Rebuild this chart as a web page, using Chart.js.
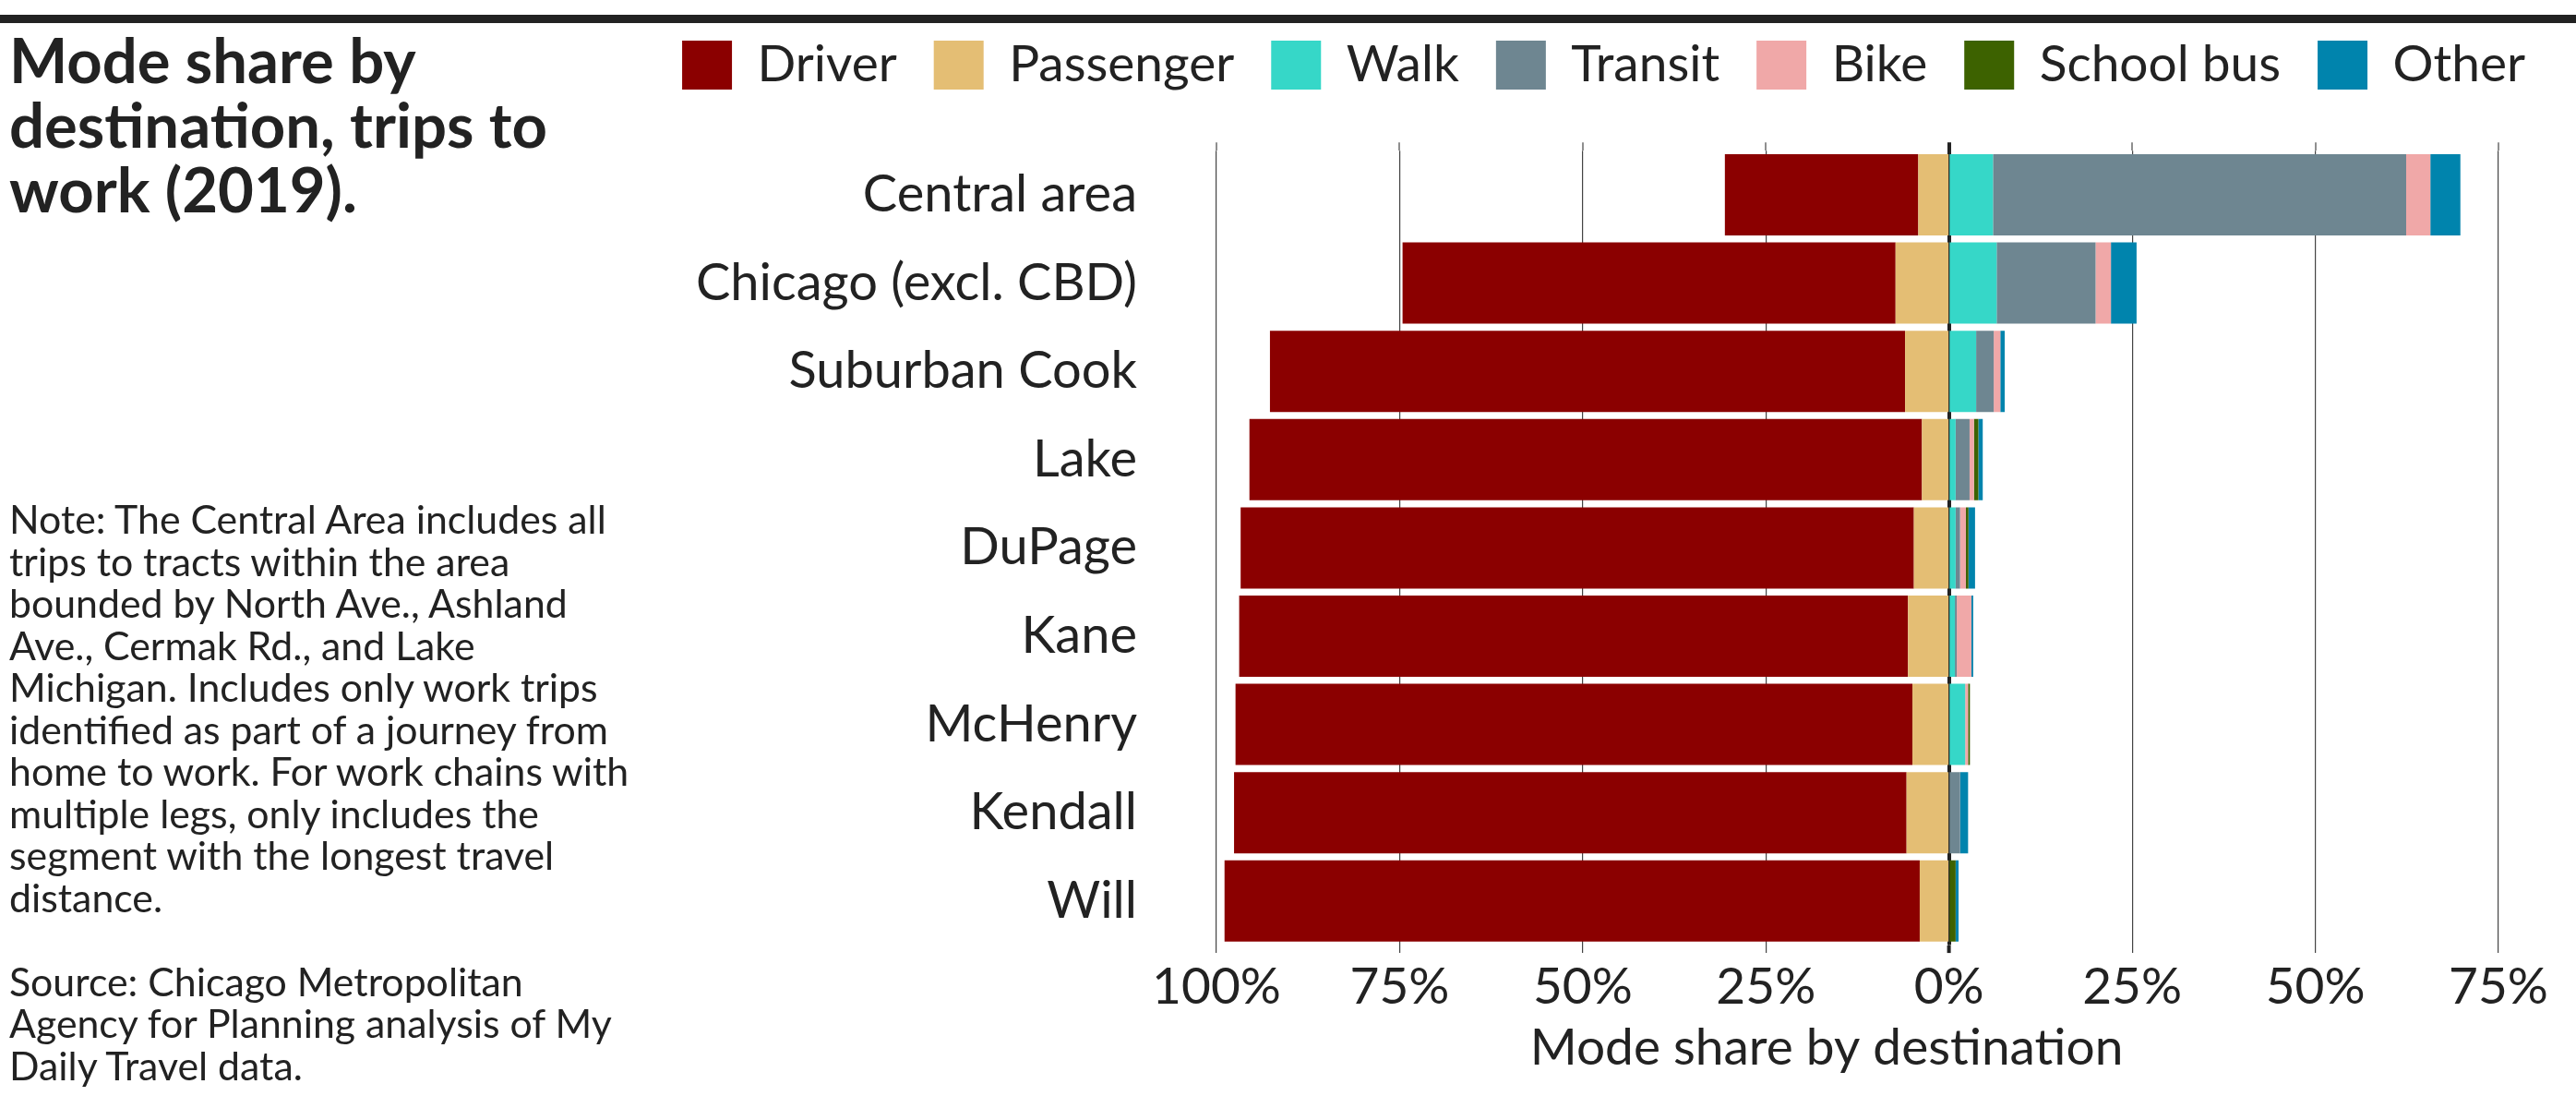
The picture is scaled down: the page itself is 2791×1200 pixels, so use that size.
<!DOCTYPE html>
<html><head><meta charset="utf-8">
<script src="https://cdn.jsdelivr.net/npm/chart.js@4"></script>
<style>
html,body{margin:0;padding:0;background:#fff;width:2791px;height:1200px;overflow:hidden;}
#wrap{position:absolute;left:0;top:0;width:2791px;height:1200px;}
#topbar{position:absolute;left:0;top:16px;width:2791px;height:9px;background:#222;}
#title{position:absolute;left:10px;top:29px;font-family:Lato;font-weight:700;font-size:67px;line-height:70px;color:#222;white-space:nowrap;}
#note{position:absolute;left:10px;top:539px;font-family:Lato;font-size:42.8px;line-height:45.5px;color:#222;white-space:nowrap;}
</style></head>
<body>
<div id="wrap"><canvas id="c"></canvas></div>
<div id="topbar"></div>
<div id="title">Mode share by<br>destination, trips to<br>work (2019).</div>
<div id="note">Note: The Central Area includes all<br>trips to tracts within the area<br>bounded by North Ave., Ashland<br>Ave., Cermak Rd., and Lake<br>Michigan. Includes only work trips<br>identified as part of a journey from<br>home to work. For work chains with<br>multiple legs, only includes the<br>segment with the longest travel<br>distance.<br><br>Source: Chicago Metropolitan<br>Agency for Planning analysis of My<br>Daily Travel data.</div>
<script>
const categories = ['Central area','Chicago (excl. CBD)','Suburban Cook','Lake','DuPage','Kane','McHenry','Kendall','Will'];
const seriesNames = ['Driver','Passenger','Walk','Transit','Bike','School bus','Other'];
const driver    = [26.4, 67.3, 86.7, 91.8, 91.9, 91.3, 92.4, 91.8, 94.9];
const passenger = [4.2, 7.3, 6.0, 3.7, 4.8, 5.6, 5.0, 5.8, 4.0];
const walk      = [6.0, 6.5, 3.7, 0.9, 0.9, 0.8, 2.2, 0.0, 0.0];
const transit   = [56.4, 13.5, 2.4, 1.9, 0.6, 0.25, 0.0, 1.5, 0.0];
const bike      = [3.3, 2.1, 0.9, 0.6, 0.8, 2.0, 0.4, 0.0, 0.0];
const schoolBus = [0, 0, 0, 0.6, 0.35, 0, 0.25, 0, 0.9];
const other     = [4.1, 3.5, 0.6, 0.6, 0.9, 0.25, 0, 1.1, 0.4];
const xTickValues = [-100, -75, -50, -25, 0, 25, 50, 75];
const xAxisTitle = 'Mode share by destination';

const seriesColors = ['#8B0000','#E4BE74','#36D7C8','#6E8691','#F0A8A8','#3D6200','#0084AD'];
const INK = '#222222';
const GRID = '#444444';

Chart.defaults.font.family = 'Lato';
Chart.defaults.color = INK;

const seriesData = [driver.map(v => -v), passenger.map(v => -v), walk, transit, bike, schoolBus, other];
const datasets = seriesNames.map((name, i) => ({
  label: name,
  data: seriesData[i],
  backgroundColor: seriesColors[i],
  borderWidth: 0,
  order: i === 0 ? 1 : 0,
  barPercentage: 0.92,
  categoryPercentage: 1.0
}));

const tickFmt = v => Math.abs(v) + '%';
const isZero = ctx => ctx.tick && ctx.tick.value === 0;

// place the legend and the axis title block horizontally like the original
const blockShift = {
  id: 'blockShift',
  afterLayout(chart) {
    const l = chart.legend;
    if (l) { l.left = 690; l.right = 2785; l.width = 2095; }
    const t = chart.titleBlock;
    if (t) { t.left = 1379; t.right = 2579; t.width = 1200; }
  }
};

new Chart(document.getElementById('c'), {
  type: 'bar',
  data: { labels: categories, datasets },
  plugins: [blockShift],
  options: {
    indexAxis: 'y',
    responsive: true,
    maintainAspectRatio: false,
    animation: false,
    layout: { padding: { top: 3, right: 84, bottom: 0, left: 0 } },
    plugins: {
      tooltip: { enabled: false },
      legend: {
        display: true,
        position: 'top',
        align: 'center',
        labels: {
          boxWidth: 54, boxHeight: 53, padding: 40,
          font: { size: 55 }, color: INK,
          sort: (a, b) => a.datasetIndex - b.datasetIndex
        }
      },
      title: {
        display: true, position: 'bottom', align: 'center',
        text: xAxisTitle, color: INK,
        font: { size: 55, weight: 'normal' },
        padding: { top: 0, bottom: 32 }
      }
    },
    scales: {
      x: {
        type: 'linear', position: 'bottom', stacked: true,
        min: -100, max: 75,
        afterBuildTicks: s => { s.ticks = xTickValues.map(v => ({ value: v })); },
        afterFit: s => { s.height = 78.4; },
        border: { display: false },
        grid: {
          color: GRID, lineWidth: 1.2,
          drawTicks: true, tickLength: 8.5,
          tickColor: ctx => isZero(ctx) ? INK : GRID,
          tickWidth: ctx => isZero(ctx) ? 4 : 1.2
        },
        ticks: { font: { size: 55 }, color: INK, padding: 4, autoSkip: false, maxRotation: 0, callback: tickFmt }
      },
      xTop: {
        type: 'linear', position: 'top', stacked: true,
        min: -100, max: 75, z: 1,
        afterBuildTicks: s => { s.ticks = xTickValues.map(v => ({ value: v })); },
        afterFit: s => { s.height = 55.2; },
        border: { display: false },
        grid: {
          drawOnChartArea: true,
          color: ctx => isZero(ctx) ? INK : 'rgba(0,0,0,0)',
          lineWidth: ctx => isZero(ctx) ? 4 : 0,
          drawTicks: true, tickLength: 9,
          tickColor: ctx => isZero(ctx) ? INK : GRID,
          tickWidth: ctx => isZero(ctx) ? 4 : 1.2
        },
        ticks: { display: false }
      },
      y: {
        type: 'category', stacked: true,
        afterFit: s => { s.width = 1318; },
        border: { display: false },
        grid: { display: false, drawTicks: false },
        ticks: { font: { size: 56 }, color: INK, padding: 86, autoSkip: false }
      }
    }
  }
});
</script>
</body></html>
